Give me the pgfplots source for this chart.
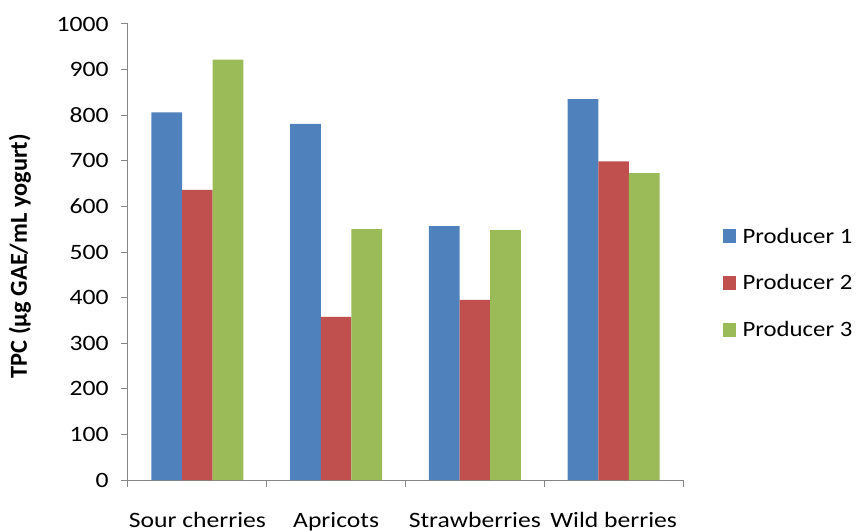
\documentclass[border=0pt]{standalone}
\usepackage{fontspec}
\setmainfont{Carlito}
\usepackage{pgfplots}
\pgfplotsset{compat=1.18}
\definecolor{pone}{HTML}{4F81BD}
\definecolor{ptwo}{HTML}{C0504D}
\definecolor{pthree}{HTML}{9BBB59}
\definecolor{axgray}{HTML}{868686}
\begin{document}
\begin{tikzpicture}
\begin{axis}[
  at={(0,0)}, anchor=south west,
  scale only axis, width=555bp, height=456bp,
  ybar=0pt, bar width=30.7bp,
  xmin=-0.5, xmax=3.5, ymin=0, ymax=1000,
  axis x line*=bottom, axis y line*=left,
  axis line style={axgray, line width=1pt},
  every tick/.style={axgray, line width=1pt},
  tick align=outside, major tick length=7bp,
  xtick={-0.5,0.5,1.5,2.5,3.5},
  x tick label as interval,
  xticklabels={Sour cherries,Apricots,Strawberries,Wild berries},
  ytick={0,100,...,1000},
  yticklabel style={font=\fontsize{22}{26}\selectfont, xscale=1.17, xshift=-7bp},
  xticklabel style={font=\fontsize{22}{26}\selectfont, xscale=1.17, yshift=-22bp},
  /pgf/number format/assume math mode=true,
  /pgf/number format/1000 sep={},
  ylabel={\textbf{TPC (µg GAE/mL yogurt)}},
  ylabel style={font=\fontsize{24.5}{28}\selectfont,
    at={(axis description cs:-0.195,0.491)}, anchor=center},
  legend style={draw=none, at={(1.067,0.562)}, anchor=north west,
    font=\fontsize{22}{26}\selectfont, row sep=26bp,
    nodes={xscale=1.13}, cells={anchor=west}},
  legend image code/.code={\fill[#1] (0bp,-7bp) rectangle (12.4bp,7bp);
    \path (17bp,0bp);},
]
\addplot[fill=pone, draw=none] coordinates {(0,806) (1,781) (2,557) (3,835)};
\addplot[fill=ptwo, draw=none] coordinates {(0,636) (1,358) (2,395) (3,699)};
\addplot[fill=pthree, draw=none] coordinates {(0,922) (1,550) (2,548) (3,673)};
\legend{Producer 1,Producer 2,Producer 3}
\end{axis}
\pgfresetboundingbox
\path[use as bounding box] (-128bp,-51bp) rectangle (730bp,480bp);
\end{tikzpicture}
\end{document}
